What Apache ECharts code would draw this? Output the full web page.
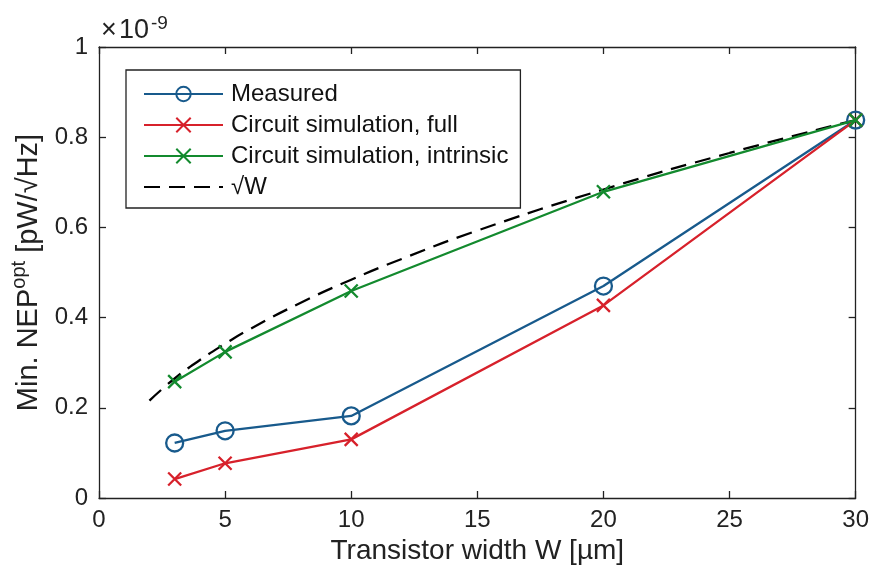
<!DOCTYPE html>
<html><head><meta charset="utf-8">
<script src="https://cdn.jsdelivr.net/npm/echarts@6/dist/echarts.min.js"></script>
<style>html,body{margin:0;padding:0;background:#fff}#c{width:872px;height:576px}</style>
</head><body><div id="c"></div>
<script>
const widths = [3, 5, 10, 20, 30];
const measured = [0.122, 0.149, 0.182, 0.470, 0.838];
const simFull = [0.042, 0.077, 0.130, 0.427, 0.838];
const simIntrinsic = [0.258, 0.324, 0.459, 0.679, 0.838];
const sqrtW = [2, 3, 4, 5, 6, 8, 10, 12, 15, 20, 25, 30];
const sqrtVals = [0.216, 0.265, 0.306, 0.342, 0.375, 0.433, 0.484, 0.530, 0.593, 0.684, 0.765, 0.838];
const xTicks = [0, 5, 10, 15, 20, 25, 30];
const yTicks = [0, 0.2, 0.4, 0.6, 0.8, 1];

const FONT = '"Liberation Sans", Arial, sans-serif';
const BLUE = '#185a8c', RED = '#d7212b', GREEN = '#138a2e';
const cross = 'path://M0,0L10,10M10,0L0,10';
const pairs = (xs, ys) => xs.map((x, i) => [x, ys[i]]);

const chart = echarts.init(document.getElementById('c'), null, {renderer: 'canvas'});
const axisCommon = {
  axisLine: {show: true, onZero: false, lineStyle: {color: '#222', width: 1.3}},
  axisTick: {show: true, inside: true, length: 7, lineStyle: {color: '#222', width: 1.3}},
  splitLine: {show: false}
};
chart.setOption({
  animation: false,
  textStyle: {fontFamily: FONT},
  grid: {left: 99, right: 16, top: 47, bottom: 78, containLabel: false},
  xAxis: [
    Object.assign({type: 'value', min: xTicks[0], max: xTicks[xTicks.length - 1], interval: 5, position: 'bottom',
      name: 'Transistor width W [µm]', nameLocation: 'middle', nameGap: 39,
      nameTextStyle: {fontSize: 28, color: '#222', fontFamily: FONT},
      axisLabel: {fontSize: 24, color: '#222', margin: 10, fontFamily: FONT}}, axisCommon),
    Object.assign({type: 'value', min: xTicks[0], max: xTicks[xTicks.length - 1], interval: 5, position: 'top',
      axisLabel: {show: false}}, axisCommon)
  ],
  yAxis: [
    Object.assign({type: 'value', min: yTicks[0], max: yTicks[yTicks.length - 1], interval: 0.2, position: 'left',
      name: '{n|Min. NEP}{s|opt}{n| [pW/√Hz]}', nameLocation: 'middle', nameGap: 56, nameRotate: 90,
      nameTextStyle: {color: '#222', rich: {
        n: {fontSize: 29, color: '#222', fontFamily: FONT, verticalAlign: 'bottom', lineHeight: 34},
        s: {fontSize: 20, color: '#222', fontFamily: FONT, verticalAlign: 'top', lineHeight: 34, padding: [0,0,12,0]}}},
      axisLabel: {fontSize: 24, color: '#222', margin: 11, fontFamily: FONT,
        formatter: v => (v === 0 ? '0' : v === 1 ? '1' : v.toFixed(1))}}, axisCommon),
    Object.assign({type: 'value', min: yTicks[0], max: yTicks[yTicks.length - 1], interval: 0.2, position: 'right',
      axisLabel: {show: false}}, axisCommon)
  ],
  legend: {
    orient: 'vertical', left: 126, top: 70,
    padding: [12, 12, 9, 17], itemGap: 7, itemWidth: 79, itemHeight: 18,
    borderColor: '#222', borderWidth: 1.3, backgroundColor: '#fff',
    textStyle: {fontSize: 24, color: '#111', fontFamily: FONT, padding: [0, 0, 0, 3]},
    data: ['Measured', 'Circuit simulation, full', 'Circuit simulation, intrinsic', '√W']
  },
  graphic: [
    {type: 'text', x: 101, y: 44,
      style: {text: '×\u200a10', font: '27px ' + FONT, fill: '#222', verticalAlign: 'bottom', align: 'left'}},
    {type: 'text', x: 151, y: 14,
      style: {text: '-9', font: '19px ' + FONT, fill: '#222', verticalAlign: 'top', align: 'left'}}
  ],
  series: [
    {name: 'Measured', type: 'line', data: pairs(widths, measured),
      symbol: 'circle', symbolSize: 17, showAllSymbol: true,
      lineStyle: {color: BLUE, width: 2.3},
      itemStyle: {color: 'rgba(0,0,0,0)', borderColor: BLUE, borderWidth: 2.3}, z: 2},
    {name: 'Circuit simulation, full', type: 'line', data: pairs(widths, simFull),
      symbol: cross, symbolSize: 13,
      lineStyle: {color: RED, width: 2.3},
      itemStyle: {color: 'rgba(0,0,0,0)', borderColor: RED, borderWidth: 2.3}, z: 3},
    {name: 'Circuit simulation, intrinsic', type: 'line', data: pairs(widths, simIntrinsic),
      symbol: cross, symbolSize: 13,
      lineStyle: {color: GREEN, width: 2.3},
      itemStyle: {color: 'rgba(0,0,0,0)', borderColor: GREEN, borderWidth: 2.3}, z: 4},
    {name: '√W', type: 'line', data: pairs(sqrtW, sqrtVals), smooth: true,
      symbol: 'circle', showSymbol: false,
      lineStyle: {color: '#000', width: 2.3, type: [16, 9]},
      itemStyle: {color: 'rgba(0,0,0,0)', borderColor: 'rgba(0,0,0,0)', borderWidth: 0}, z: 1}
  ]
});
</script></body></html>
